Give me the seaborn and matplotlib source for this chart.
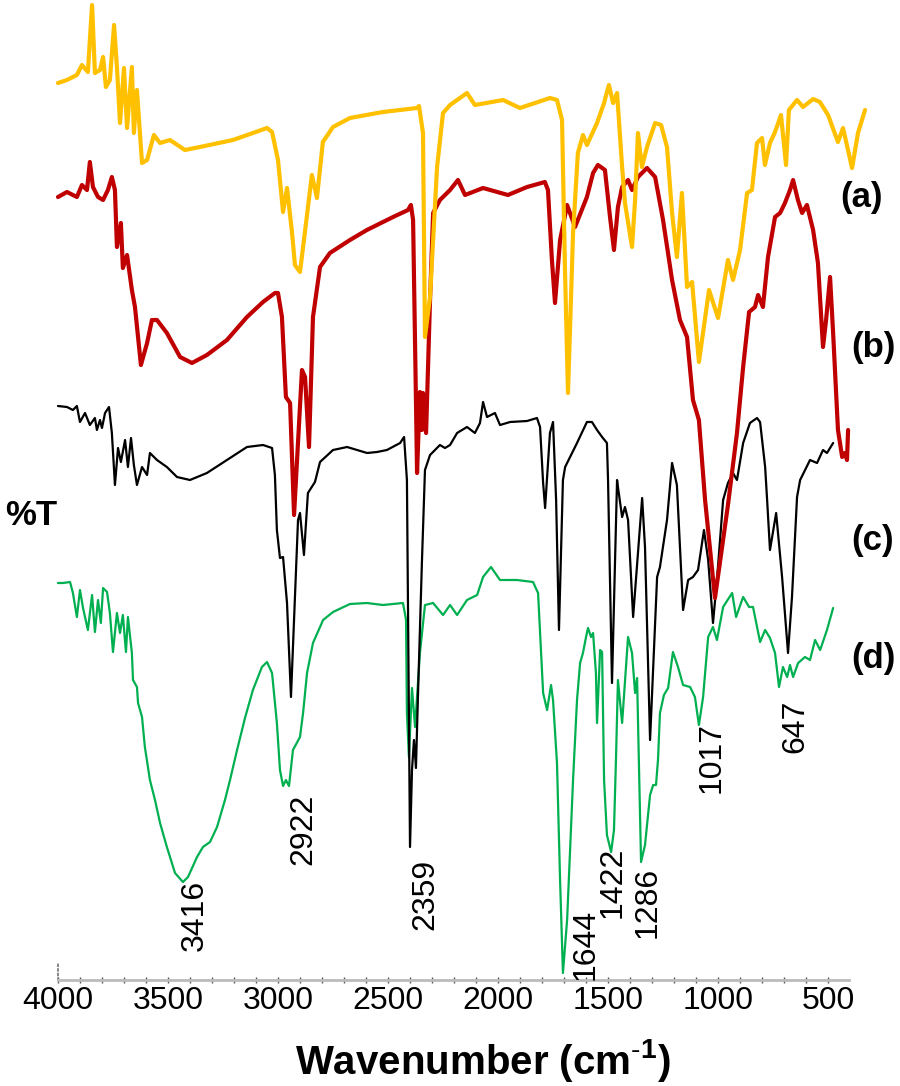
import numpy as np
import pandas as pd
import seaborn as sns
import matplotlib.pyplot as plt
from matplotlib.ticker import MultipleLocator

# FTIR spectra, wavenumber (cm-1) vs %T (arbitrary offsets)
wn_a = [4000, 3959, 3914, 3891, 3864, 3845, 3832, 3809, 3795, 3782,
        3764, 3745, 3732, 3718, 3700, 3686, 3664, 3655, 3641, 3618,
        3595, 3564, 3536, 3491, 3423, 3355, 3205, 3114, 3050, 3027,
        3000, 2977, 2959, 2936, 2923, 2900, 2882, 2846, 2823, 2796,
        2750, 2673, 2523, 2368, 2359, 2341, 2332, 2309, 2277, 2250,
        2218, 2141, 2105, 1977, 1900, 1764, 1732, 1709, 1696, 1682,
        1659, 1637, 1614, 1596, 1550, 1518, 1505, 1496, 1477, 1459,
        1436, 1423, 1391, 1377, 1364, 1346, 1323, 1286, 1259, 1232,
        1209, 1187, 1164, 1141, 1118, 1087, 1041, 1000, 955, 932,
        900, 868, 846, 823, 800, 787, 764, 741, 714, 691,
        678, 641, 614, 568, 537, 500, 455, 432, 391, 364,
        332]
t_a = [91.7, 92.0, 92.5, 93.5, 92.8, 99.5, 92.7, 93.0, 94.3, 91.3,
       92.0, 97.5, 93.3, 87.7, 93.2, 87.2, 93.3, 86.7, 91.0, 83.7,
       84.0, 86.5, 85.7, 86.0, 85.0, 85.3, 86.0, 86.7, 87.2, 86.8,
       84.0, 78.8, 81.2, 76.7, 73.5, 72.8, 76.0, 82.5, 80.2, 85.8,
       87.3, 88.2, 88.8, 89.2, 89.4, 86.7, 66.3, 70.3, 83.3, 88.7,
       89.5, 90.7, 89.5, 90.0, 89.2, 90.2, 90.0, 88.0, 73.3, 60.7,
       76.7, 84.7, 86.5, 85.5, 87.7, 89.7, 90.8, 91.5, 89.7, 90.7,
       83.3, 79.7, 75.3, 80.0, 86.7, 83.3, 85.3, 87.7, 87.5, 85.3,
       78.7, 74.3, 80.7, 71.3, 71.8, 63.8, 71.0, 68.2, 74.0, 72.0,
       75.0, 80.7, 81.0, 85.7, 86.2, 83.5, 85.7, 86.8, 88.5, 83.5,
       89.0, 90.0, 89.3, 90.1, 89.8, 88.5, 85.8, 87.2, 83.2, 86.7,
       89.0]

wn_b = [4000, 3959, 3914, 3891, 3868, 3855, 3841, 3818, 3795, 3773,
        3755, 3741, 3732, 3714, 3705, 3686, 3664, 3650, 3623, 3595,
        3573, 3550, 3505, 3445, 3391, 3323, 3232, 3141, 3068, 3014,
        3000, 2982, 2964, 2945, 2927, 2891, 2877, 2859, 2841, 2809,
        2764, 2673, 2596, 2477, 2409, 2396, 2386, 2373, 2368, 2355,
        2346, 2341, 2327, 2309, 2295, 2264, 2218, 2182, 2150, 2068,
        1955, 1868, 1787, 1773, 1755, 1741, 1718, 1686, 1650, 1596,
        1568, 1546, 1514, 1491, 1473, 1455, 1436, 1409, 1391, 1364,
        1323, 1286, 1250, 1209, 1173, 1141, 1114, 1087, 1059, 1014,
        955, 914, 886, 859, 832, 818, 796, 773, 741, 718,
        696, 673, 659, 637, 618, 596, 568, 546, 523, 509,
        491, 477, 455, 436, 423, 414, 409]
t_b = [80.3, 80.8, 80.3, 81.5, 81.0, 83.8, 81.3, 80.3, 80.0, 81.0,
       82.3, 81.0, 75.3, 77.7, 73.2, 74.5, 71.0, 69.3, 63.5, 65.7,
       68.0, 68.0, 66.7, 64.3, 63.7, 64.5, 66.0, 68.3, 69.8, 70.7,
       70.7, 68.3, 60.3, 59.7, 48.5, 63.0, 62.3, 55.3, 68.3, 73.3,
       74.7, 76.0, 77.0, 78.3, 79.0, 79.5, 78.0, 60.0, 52.7, 60.8,
       57.0, 60.7, 56.7, 70.0, 78.7, 80.0, 81.0, 82.0, 80.5, 81.2,
       80.5, 81.3, 81.8, 81.0, 74.0, 69.7, 76.0, 79.5, 77.3, 80.3,
       82.7, 83.5, 83.0, 78.3, 75.0, 79.3, 81.3, 82.0, 81.0, 82.3,
       83.2, 82.3, 78.0, 72.0, 68.0, 66.3, 60.0, 58.0, 50.0, 40.2,
       49.5, 56.7, 63.3, 68.8, 69.3, 70.5, 69.3, 74.3, 78.3, 78.7,
       79.7, 81.0, 82.0, 80.0, 78.7, 79.5, 77.0, 73.7, 65.3, 68.0,
       72.3, 66.7, 57.0, 54.3, 54.7, 54.0, 57.0]

wn_c = [4000, 3959, 3932, 3914, 3900, 3877, 3855, 3832, 3823, 3809,
        3800, 3786, 3768, 3755, 3741, 3727, 3714, 3695, 3682, 3668,
        3655, 3641, 3618, 3595, 3582, 3550, 3505, 3459, 3400, 3323,
        3232, 3141, 3068, 3027, 3014, 3005, 2991, 2977, 2959, 2941,
        2923, 2909, 2900, 2882, 2864, 2832, 2809, 2750, 2686, 2595,
        2550, 2505, 2445, 2427, 2414, 2400, 2391, 2382, 2373, 2364,
        2346, 2332, 2309, 2264, 2241, 2218, 2186, 2141, 2105, 2082,
        2068, 2050, 2014, 1991, 1945, 1868, 1823, 1809, 1795, 1786,
        1764, 1750, 1736, 1723, 1705, 1695, 1641, 1596, 1573, 1550,
        1527, 1505, 1500, 1482, 1459, 1455, 1436, 1423, 1409, 1386,
        1345, 1332, 1309, 1277, 1264, 1232, 1209, 1187, 1159, 1136,
        1114, 1091, 1064, 1045, 1023, 1005, 977, 955, 932, 914,
        886, 855, 823, 809, 786, 777, 764, 736, 709, 682,
        664, 641, 627, 582, 550, 523, 505, 477]
t_c = [59.4, 59.3, 59.0, 59.4, 57.8, 58.7, 57.5, 58.2, 57.0, 58.0,
       57.2, 58.7, 59.3, 56.7, 51.5, 55.2, 53.8, 56.0, 53.3, 56.2,
       53.5, 51.5, 53.3, 52.5, 54.7, 54.0, 53.3, 52.3, 52.0, 52.7,
       54.0, 55.3, 55.5, 55.2, 52.5, 47.0, 44.2, 44.3, 39.7, 30.3,
       40.3, 48.0, 48.7, 44.5, 50.7, 51.8, 53.8, 55.0, 55.3, 54.7,
       54.8, 55.0, 55.7, 56.3, 52.0, 15.3, 23.0, 26.0, 23.2, 30.3,
       43.7, 53.0, 54.5, 55.5, 55.2, 55.5, 56.7, 57.3, 56.7, 57.7,
       59.8, 58.3, 58.7, 57.5, 57.8, 57.9, 58.2, 57.3, 51.7, 49.2,
       56.7, 57.8, 50.0, 37.0, 52.0, 53.3, 55.7, 57.8, 57.8, 57.0,
       56.3, 55.7, 52.0, 31.7, 52.0, 51.3, 48.3, 49.3, 48.0, 38.3,
       50.2, 45.3, 26.0, 42.3, 43.3, 48.0, 53.7, 51.5, 39.0, 42.0,
       42.3, 43.0, 47.0, 44.0, 37.7, 42.0, 50.0, 51.7, 52.7, 52.0,
       55.7, 57.7, 58.2, 57.8, 53.3, 50.0, 45.0, 48.7, 42.3, 34.7,
       40.3, 50.3, 52.0, 54.0, 53.7, 55.0, 54.7, 55.7]

wn_d = [4000, 3977, 3945, 3932, 3914, 3900, 3886, 3864, 3845, 3832,
        3818, 3805, 3795, 3777, 3764, 3750, 3732, 3718, 3705, 3691,
        3682, 3664, 3659, 3641, 3636, 3618, 3605, 3582, 3559, 3536,
        3505, 3468, 3432, 3409, 3368, 3341, 3309, 3277, 3241, 3218,
        3186, 3150, 3114, 3073, 3050, 3027, 3005, 2991, 2977, 2964,
        2950, 2932, 2900, 2886, 2868, 2841, 2795, 2750, 2673, 2596,
        2523, 2432, 2418, 2414, 2405, 2391, 2377, 2355, 2332, 2295,
        2250, 2218, 2186, 2141, 2095, 2068, 2032, 1991, 1914, 1841,
        1818, 1795, 1777, 1759, 1750, 1732, 1718, 1705, 1686, 1659,
        1641, 1627, 1614, 1600, 1591, 1577, 1568, 1555, 1550, 1536,
        1527, 1518, 1505, 1486, 1473, 1464, 1455, 1436, 1409, 1391,
        1377, 1368, 1350, 1332, 1309, 1295, 1282, 1273, 1264, 1246,
        1227, 1205, 1182, 1159, 1127, 1105, 1087, 1068, 1045, 1023,
        1005, 977, 936, 918, 886, 859, 841, 809, 786, 764,
        741, 723, 705, 686, 673, 659, 636, 605, 582, 559,
        536, 505, 477]
t_d = [41.7, 41.7, 41.8, 40.7, 38.3, 41.0, 39.2, 37.0, 40.5, 36.8,
       40.0, 37.7, 41.2, 40.8, 38.7, 34.8, 38.7, 36.7, 38.5, 34.8,
       38.3, 34.7, 32.0, 31.3, 29.7, 28.3, 25.3, 22.0, 20.0, 17.7,
       15.3, 12.7, 11.8, 12.3, 14.3, 15.3, 15.8, 17.3, 20.0, 22.0,
       25.0, 28.2, 31.0, 33.3, 33.8, 32.7, 27.7, 23.0, 21.4, 22.0,
       21.4, 25.0, 26.3, 28.7, 32.7, 35.7, 38.0, 38.8, 39.6, 39.7,
       39.5, 39.7, 38.0, 28.7, 24.3, 31.2, 27.3, 34.7, 39.5, 39.7,
       38.5, 39.5, 38.5, 40.0, 40.5, 42.3, 43.3, 42.0, 42.0, 41.8,
       40.7, 30.7, 29.0, 31.5, 30.0, 23.7, 12.0, 2.7, 8.0, 22.0,
       30.0, 33.7, 34.7, 36.3, 37.2, 36.3, 36.7, 32.7, 27.7, 35.0,
       34.8, 22.0, 16.5, 14.8, 17.0, 24.0, 32.0, 27.7, 36.3, 34.7,
       30.7, 32.2, 13.8, 15.5, 20.5, 21.5, 21.5, 24.0, 28.7, 30.5,
       31.2, 34.8, 33.3, 31.5, 31.3, 30.3, 27.5, 30.3, 36.3, 37.3,
       36.0, 39.3, 40.7, 38.3, 40.3, 39.3, 39.3, 35.8, 37.0, 36.2,
       34.7, 31.3, 33.3, 32.3, 33.5, 32.3, 33.7, 34.3, 34.0, 36.0,
       35.0, 37.0, 39.2]

series_labels = ["(a)", "(b)", "(c)", "(d)"]
label_wn = [350, 296, 296, 296]
label_t = [80.3, 65.3, 46.0, 34.2]

peak_text = ["3416", "2922", "2359", "1644", "1422", "1286", "1017", "647"]
peak_wn = [3377, 2886, 2332, 1600, 1478, 1318, 1028, 650]
peak_t = [8.5, 17.1, 10.6, 5.6, 11.8, 9.8, 24.3, 27.4]

sns.set_theme(style="white")
plt.rcParams["font.family"] = ["Liberation Sans", "DejaVu Sans"]
plt.rcParams["mathtext.fontset"] = "custom"
plt.rcParams["mathtext.rm"] = "Liberation Sans"
plt.rcParams["mathtext.bf"] = "Liberation Sans:bold"
plt.rcParams["text.color"] = "black"
plt.rcParams["axes.labelcolor"] = "black"
plt.rcParams["xtick.color"] = "black"

fig = plt.figure(figsize=(9, 10.86), dpi=100)
ax = fig.add_axes([0.0644, 0.0976, 0.8789, 0.9024])

line_kw = dict(sort=False, estimator=None, clip_on=False,
               solid_joinstyle="round", solid_capstyle="round")
# drawn bottom to top: d, c, b, a
sns.lineplot(x=wn_d, y=t_d, ax=ax, color="#00B050", lw=1.6, zorder=1, **line_kw)
sns.lineplot(x=wn_c, y=t_c, ax=ax, color="black", lw=1.6, zorder=2, **line_kw)
sns.lineplot(x=wn_b, y=t_b, ax=ax, color="#C00000", lw=3.0, zorder=3, **line_kw)
sns.lineplot(x=wn_a, y=t_a, ax=ax, color="#FFC000", lw=3.0, zorder=4, **line_kw)

ax.set_xlim(4000, 405)
ax.set_ylim(2, 100)

for lab, x, y in zip(series_labels, label_wn, label_t):
    ax.text(x, y, lab, fontsize=25, fontweight="bold", ha="center",
            va="center", clip_on=False)

for lab, x, y in zip(peak_text, peak_wn, peak_t):
    ax.text(x, y, lab, fontsize=23, rotation=90, ha="center", va="center",
            clip_on=False, zorder=5)

ax.xaxis.set_major_locator(MultipleLocator(500))
ax.xaxis.set_minor_locator(MultipleLocator(100))
ax.tick_params(axis="x", which="both", direction="inout", length=4,
               width=1, color="#555555", labelsize=23, pad=2,
               bottom=True, labelcolor="black")
ax.set_yticks([])

for side in ["top", "right"]:
    ax.spines[side].set_visible(False)
ax.spines["bottom"].set_color("#bbbbbb")
ax.spines["bottom"].set_linewidth(2)
ax.spines["left"].set_bounds(2, 3.8)
ax.spines["left"].set_linestyle(":")
ax.spines["left"].set_color("#777777")

ax.set_xlabel(r"Wavenumber (cm$^{\mathbf{\text{-}1}}$)", fontsize=29,
              fontweight="bold")
ax.xaxis.set_label_coords(0.537, -0.058)
ax.set_ylabel("%T", rotation=0, fontsize=25, fontweight="bold",
              ha="right", va="center")
ax.yaxis.set_label_coords(-0.001, 0.474)

fig.savefig("out.png", dpi=100)
